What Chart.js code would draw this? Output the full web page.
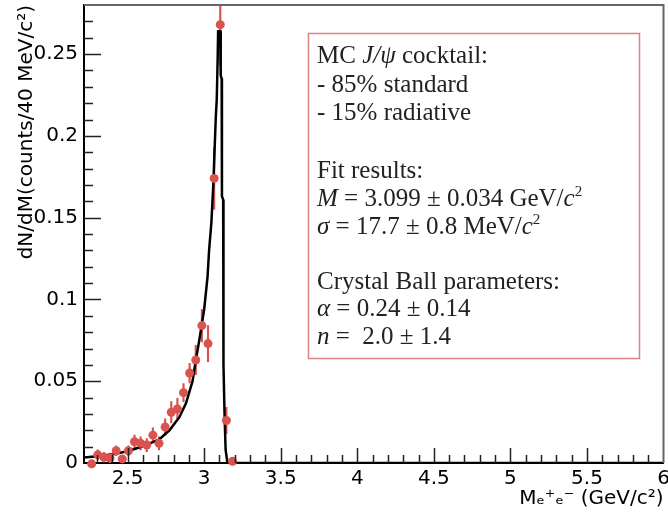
<!DOCTYPE html>
<html>
<head>
<script src="https://cdn.jsdelivr.net/npm/chart.js"></script>
<title>J/psi line shape</title>
<style>
  body { margin: 0; background: #fff; }
  #wrap { width: 668px; height: 514px; }
</style>
</head>
<body>
<div id="wrap"><canvas id="chart"></canvas></div>
<script>
// MC cocktail points (40 MeV bins)
const massBins = [2.265, 2.305, 2.345, 2.385, 2.425, 2.465, 2.505, 2.545, 2.585, 2.625, 2.665, 2.705,
                  2.745, 2.785, 2.825, 2.865, 2.905, 2.945, 2.985, 3.025, 3.065, 3.105, 3.145, 3.185];
const counts = [-0.0005, 0.005, 0.0035, 0.003, 0.0075, 0.0025, 0.0075, 0.013, 0.012, 0.011, 0.017, 0.012,
                0.022, 0.031, 0.033, 0.043, 0.055, 0.063, 0.084, 0.073, 0.174, 0.268, 0.026, 0.001];
const countErrors = [0.002, 0.003, 0.003, 0.003, 0.003, 0.002, 0.003, 0.004, 0.004, 0.004, 0.0045, 0.004,
                     0.005, 0.0065, 0.0065, 0.0055, 0.006, 0.009, 0.010, 0.011, 0.019, 0.025, 0.008, 0.001];

// Crystal Ball fit curve
const fitMass = [2.215, 2.32, 2.405, 2.513, 2.62, 2.708, 2.773, 2.838, 2.881, 2.924, 2.942, 2.968, 3.0,
                 3.022, 3.032, 3.047, 3.06, 3.069, 3.076, 3.082, 3.088, 3.091, 3.105, 3.108, 3.114, 3.116,
                 3.124, 3.126, 3.133, 3.14, 3.152, 6.0];
const fitValue = [0.0033, 0.0043, 0.0053, 0.0075, 0.011, 0.0145, 0.020, 0.028, 0.0365, 0.050, 0.061, 0.075, 0.094,
                  0.114, 0.130, 0.147, 0.171, 0.194, 0.212, 0.222, 0.247, 0.264, 0.264, 0.237, 0.235, 0.163,
                  0.161, 0.06, 0.03, 0.008, 0, 0];

const xTicks = [2.5, 3, 3.5, 4, 4.5, 5, 5.5, 6];
const yTicks = [0, 0.05, 0.1, 0.15, 0.2, 0.25];

// text box lines: [text, style]  style 0 normal, 1 italic, 2 superscript
const boxLines = [
  [['MC ', 0], ['J/ψ', 1], [' cocktail:', 0]],
  [['- 85% standard', 0]],
  [['- 15% radiative', 0]],
  [['Fit results:', 0]],
  [['M', 1], [' = 3.099 ± 0.034 GeV/', 0], ['c', 1], ['2', 2]],
  [['σ', 1], [' = 17.7 ± 0.8 MeV/', 0], ['c', 1], ['2', 2]],
  [['Crystal Ball parameters:', 0]],
  [['α', 1], [' = 0.24 ± 0.14', 0]],
  [['n', 1], [' =  2.0 ± 1.4', 0]]
];
const boxBaselines = [63, 92, 120, 178, 206, 234, 289, 316, 344];

const red = '#d9534f';
const tickFont = { family: 'DejaVu Sans', size: 20 };

const rootFrame = {
  id: 'rootFrame',
  afterDatasetsDraw(chart) {
    const { ctx, chartArea: a, scales: { x, y } } = chart;
    ctx.save();
    ctx.strokeStyle = '#666';
    ctx.lineWidth = 2;
    ctx.beginPath();
    ctx.moveTo(a.left, a.top);
    ctx.lineTo(a.right, a.top);
    ctx.lineTo(a.right, a.bottom);
    ctx.stroke();

    // inward ticks, ROOT style
    ctx.strokeStyle = '#222';
    ctx.lineWidth = 1.5;
    ctx.beginPath();
    for (let k = 23; k < 60; k++) {
      const px = Math.round(x.getPixelForValue(k / 10)) + 0.5;
      ctx.moveTo(px, a.bottom);
      ctx.lineTo(px, a.bottom - (k % 5 === 0 ? 15 : 8));
    }
    for (let k = 1; k < 28; k++) {
      const py = Math.round(y.getPixelForValue(k / 100)) + 0.5;
      ctx.moveTo(a.left, py);
      ctx.lineTo(a.left + (k % 5 === 0 ? 17 : 9), py);
    }
    ctx.stroke();
    ctx.restore();
  },
  afterDraw(chart) {
    const ctx = chart.ctx;
    ctx.save();
    ctx.fillStyle = '#fff';
    ctx.fillRect(308, 33, 331, 325);
    ctx.strokeStyle = '#d98580';
    ctx.lineWidth = 1.5;
    ctx.strokeRect(308.5, 33.5, 331, 325);
    ctx.fillStyle = '#222';
    ctx.textBaseline = 'alphabetic';
    boxLines.forEach((segs, i) => {
      let cx = 317;
      const by = boxBaselines[i];
      segs.forEach(([t, s]) => {
        const size = s === 2 ? 15 : 25;
        ctx.font = (s === 1 ? 'italic ' : '') + size + 'px "Liberation Serif"';
        ctx.fillText(t, cx, s === 2 ? by - 10 : by);
        cx += ctx.measureText(t).width;
      });
    });
    ctx.restore();
  }
};

const ctx = document.getElementById('chart').getContext('2d');
new Chart(ctx, {
  type: 'scatter',
  data: {
    datasets: [
      {
        type: 'scatter',
        label: 'MC',
        data: massBins.map((m, i) => ({ x: m, y: counts[i] })),
        backgroundColor: red,
        borderWidth: 0,
        pointRadius: 4.5,
        clip: false,
        order: 0
      },
      {
        type: 'line',
        label: 'fit',
        data: fitMass.map((m, i) => ({ x: m, y: fitValue[i] })),
        borderColor: '#000',
        borderWidth: 2.5,
        pointRadius: 0,
        tension: 0,
        fill: false,
        order: 1
      },
      {
        type: 'bar',
        label: 'errors',
        data: massBins.map((m, i) => ({ x: m, y: [counts[i] - countErrors[i], counts[i] + countErrors[i]] })),
        backgroundColor: red,
        barThickness: 1.5,
        grouped: false,
        order: 2
      }
    ]
  },
  options: {
    responsive: true,
    maintainAspectRatio: false,
    animation: false,
    layout: { padding: { top: 5, right: 1, left: 0, bottom: 0 } },
    plugins: { legend: { display: false }, tooltip: { enabled: false } },
    scales: {
      x: {
        type: 'linear',
        min: 2.215,
        max: 6,
        offset: false,
        grid: { display: false, drawTicks: false },
        border: { color: '#000', width: 2 },
        afterBuildTicks: axis => { axis.ticks = xTicks.map(v => ({ value: v })); },
        afterFit: axis => { axis.height = 51; axis.paddingLeft = 0; axis.paddingRight = 0; },
        ticks: {
          autoSkip: false, maxRotation: 0, padding: 4, color: '#000', font: tickFont,
          callback: v => String(v)
        },
        title: {
          display: true, text: 'Mₑ⁺ₑ⁻ (GeV/c²)', align: 'end', color: '#000',
          font: { family: 'DejaVu Sans', size: 20 }, padding: { top: 0, bottom: 3 }
        }
      },
      y: {
        type: 'linear',
        min: 0,
        max: 0.28,
        grid: { display: false, drawTicks: false },
        border: { color: '#000', width: 2 },
        afterBuildTicks: axis => { axis.ticks = yTicks.map(v => ({ value: v })); },
        afterFit: axis => { axis.width = 84; axis.paddingTop = 0; axis.paddingBottom = 0; },
        ticks: {
          autoSkip: false, padding: 6, color: '#000', font: tickFont,
          callback: v => String(Math.round(v * 100) / 100)
        },
        title: {
          display: true, text: 'dN/dM(counts/40 MeV/c²)', align: 'end', color: '#000',
          font: { family: 'DejaVu Sans', size: 20 }, padding: { top: 15, bottom: 0 }
        }
      }
    }
  },
  plugins: [rootFrame]
});
</script>
</body>
</html>
